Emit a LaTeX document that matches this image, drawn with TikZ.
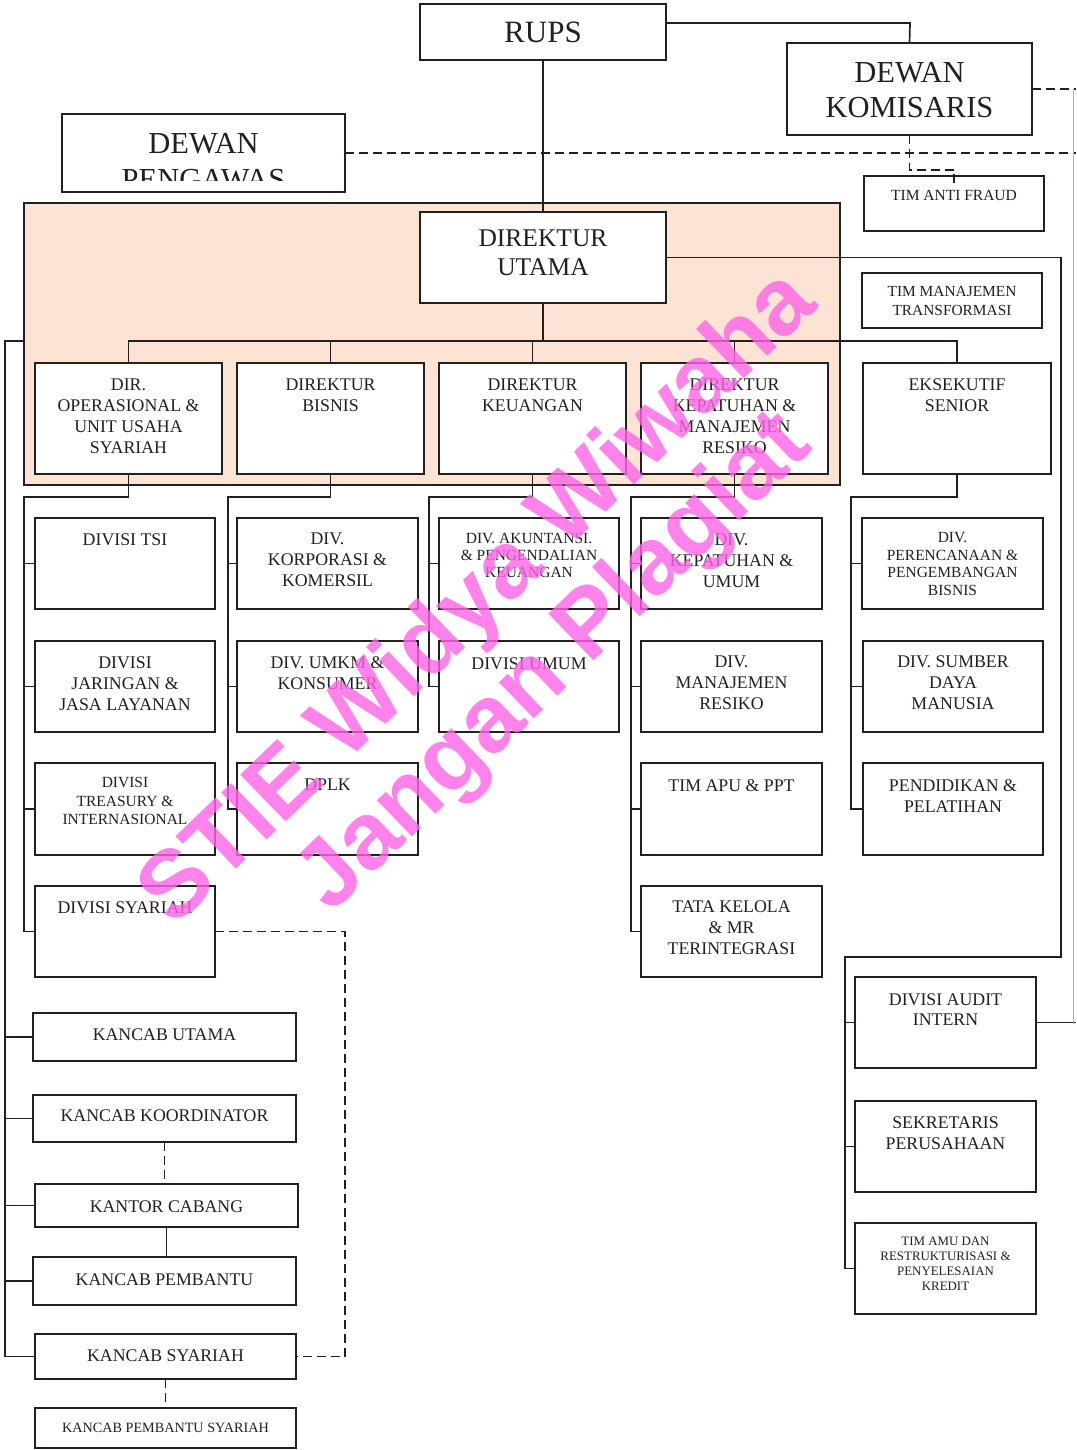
\documentclass[tikz,border=0pt]{standalone}
\usepackage{fontspec}
\setmainfont{Liberation Serif}
\newfontfamily\wmfont{Liberation Sans}
\usetikzlibrary{calc}
\definecolor{ink}{HTML}{231F20}
\definecolor{peach}{HTML}{FCE3D3}
\definecolor{wmpink}{RGB}{255,100,230}
\newcommand\fsz[2]{\fontsize{#1pt}{#2pt}\selectfont}
% box with its text: [text options]{name}{x1}{y1}{x2}{y2}{cap top of first line}{text}
\newcommand\orgbox[8][]{%
  \node[box, minimum width={#5-#3}, minimum height={#6-#4}] (#2) at ({(#3+#5)/2},{(#4+#6)/2}) {};
  \node[txt,#1] (#2-t) at ({(#3+#5)/2},#7) {#8};
}
\begin{document}
\begin{tikzpicture}[x=1pt,y=-1pt,
  box/.style={draw=ink, line width=2pt, fill=white, inner sep=0pt, outer sep=0pt},
  link/.style={draw=ink, line width=1.7pt},
  dlink/.style={link, dash pattern=on 9pt off 5pt},
  txt/.style={anchor=north, inner sep=0pt, align=center, text=ink, font=\fsz{17.8}{21}},
  small/.style={font=\fsz{15.5}{17.5}},
  wm/.style={rotate=44, inner sep=0pt, text=wmpink, text opacity=0.8,
    font=\wmfont\bfseries\fsz{95}{95}}]
\useasboundingbox (0,0) rectangle (1076,1450);

% board of directors area
\node[draw=ink, line width=2pt, fill=peach, inner sep=0pt, outer sep=0pt,
  minimum width=816, minimum height=282] (peach) at (432,344) {};

% top level
\orgbox[font=\fsz{31}{36}]{rups}{420}{4}{666}{60}{22}{RUPS}
\orgbox[font=\fsz{30.5}{35.6}]{dk}{787}{43}{1032}{135}{61.7}{DEWAN\\KOMISARIS}
\node[box, minimum width=283, minimum height=78] (dp) at (203.5,153) {};
\begin{scope}
  \clip (dp.north west) rectangle ([yshift=11pt]dp.south east);
  \node[txt, font=\fsz{30.5}{36}] (dp-t) at (203.5,132.7) {DEWAN\\PENGAWAS};
\end{scope}
\orgbox[font=\fsz{25.5}{29.3}]{du}{420}{212}{666}{303}{229.3}{DIREKTUR\\UTAMA}
\orgbox[small]{taf}{864}{176}{1044}{231}{190}{TIM ANTI FRAUD}
\orgbox[font=\fsz{15.4}{18.3}]{tmt}{862}{273}{1042}{328}{286.4}{TIM MANAJEMEN\\TRANSFORMASI}

% directors
\orgbox{dirop}{35}{363}{222}{474}{378.3}{DIR.\\OPERASIONAL \&\\UNIT USAHA\\SYARIAH}
\orgbox{dbis}{237}{363}{424}{474}{378.3}{DIREKTUR\\BISNIS}
\orgbox{dkeu}{439}{363}{626}{474}{378.3}{DIREKTUR\\KEUANGAN}
\orgbox{dkep}{641}{363}{828}{474}{378.3}{DIREKTUR\\KEPATUHAN \&\\MANAJEMEN\\RESIKO}
\orgbox{eks}{863}{363}{1051}{474}{378.3}{EKSEKUTIF\\SENIOR}

% divisions, first row
\orgbox{tsi}{35}{518}{215}{609}{534}{DIVISI TSI}
\orgbox{korp}{237}{518}{418}{609}{532.3}{DIV.\\KORPORASI \&\\KOMERSIL}
\orgbox[font=\fsz{15.5}{17.3}]{akun}{439}{518}{619}{609}{532.7}{DIV. AKUNTANSI.\\\& PENGENDALIAN\\KEUANGAN}
\orgbox{dkepu}{641}{518}{822}{609}{533.2}{DIV.\\KEPATUHAN \&\\UMUM}
\orgbox[small]{pren}{862}{518}{1043}{609}{532.4}{DIV.\\PERENCANAAN \&\\PENGEMBANGAN\\BISNIS}

% second row
\orgbox{jar}{35}{641}{215}{732}{656.3}{DIVISI\\JARINGAN \&\\JASA LAYANAN}
\orgbox{umkm}{237}{641}{418}{732}{656}{DIV. UMKM \&\\KONSUMER}
\orgbox{umum}{439}{641}{619}{732}{657.3}{DIVISI UMUM}
\orgbox{mr}{641}{641}{822}{732}{656}{DIV.\\MANAJEMEN\\RESIKO}
\orgbox{sdm}{863}{641}{1043}{732}{656}{DIV. SUMBER\\DAYA\\MANUSIA}

% third row
\orgbox[font=\fsz{15.5}{18.3}]{trs}{35}{763}{215}{855}{777.3}{DIVISI\\TREASURY \&\\INTERNASIONAL}
\orgbox{dplk}{237}{763}{418}{855}{779}{DPLK}
\orgbox{apu}{641}{763}{822}{855}{779}{TIM APU \& PPT}
\orgbox{pend}{863}{763}{1043}{855}{779}{PENDIDIKAN \&\\PELATIHAN}

% fourth row
\orgbox{syr}{35}{886}{215}{977}{901.7}{DIVISI SYARIAH}
\orgbox{tata}{641}{886}{822}{977}{901}{TATA KELOLA\\\& MR\\TERINTEGRASI}

% units under the president director
\orgbox[font=\fsz{17.8}{20}]{aud}{855}{977}{1036}{1068}{993.3}{DIVISI AUDIT\\INTERN}
\orgbox[font=\fsz{17.8}{20.6}]{sek}{855}{1101}{1036}{1192}{1116.7}{SEKRETARIS\\PERUSAHAAN}
\orgbox[font=\fsz{12.9}{15}]{amu}{855}{1223}{1036}{1314}{1236.4}{TIM AMU DAN\\RESTRUKTURISASI \&\\PENYELESAIAN\\KREDIT}

% branch offices
\orgbox{ku}{33}{1013}{296}{1061}{1028.3}{KANCAB UTAMA}
\orgbox{kk}{33}{1095}{296}{1142}{1110}{KANCAB KOORDINATOR}
\orgbox{kc}{35}{1184}{298}{1227}{1200}{KANTOR CABANG}
\orgbox{kp}{33}{1257}{296}{1305}{1273.3}{KANCAB PEMBANTU}
\orgbox{ks}{35}{1334}{296}{1379}{1349}{KANCAB SYARIAH}
\orgbox[font=\fsz{14.2}{16}]{kps}{35}{1408}{296}{1448}{1423.3}{KANCAB PEMBANTU SYARIAH}

% junction points
\coordinate (busy) at (543,341);
\coordinate (lrail) at (5,341);
\coordinate (rk) at (910,23);
\coordinate (c1) at (24,497);
\coordinate (c2) at (228,497);
\coordinate (c3) at (429,497);
\coordinate (c4) at (631,497);
\coordinate (c5) at (851,497);
\coordinate (c6) at (1061,957);
\coordinate (c7) at (845,957);
\coordinate (c8) at (954,170);
\coordinate (c9) at (345,933);
\coordinate (redge) at (1076,155);
\coordinate (gtop) at (1073,89);
\coordinate (gbot) at (1073,1024);

% solid reporting lines
\draw[link] (rups) -- (du);
\draw[link] (rups.east |- rk) -- (rk) -- (dk.north);
\draw[link] (du) -- (busy);
\draw[link] (dirop.north) |- (busy) -| (eks.north);
\foreach \n in {dbis,dkeu,dkep} \draw[link] (\n.north) -- (\n.north |- busy);

\draw[link] (dirop.south) |- (c1) |- (syr.west);
\foreach \n in {tsi,jar,trs} \draw[link] (\n.west) -- (\n.west -| c1);
\draw[link] (dbis.south) |- (c2) |- (dplk.west);
\foreach \n in {korp,umkm} \draw[link] (\n.west) -- (\n.west -| c2);
\draw[link] (dkeu.south) |- (c3) |- (umum.west);
\draw[link] (akun.west) -- (akun.west -| c3);
\draw[link] (dkep.south) |- (c4) |- (tata.west);
\foreach \n in {dkepu,mr,apu} \draw[link] (\n.west) -- (\n.west -| c4);
\draw[link] (eks.south) |- (c5) |- (pend.west);
\foreach \n in {pren,sdm} \draw[link] (\n.west) -- (\n.west -| c5);

\draw[link] (du.east) -| (c6) -- (c7) |- (amu.west);
\foreach \n in {aud,sek} \draw[link] (\n.west) -- (\n.west -| c7);
\draw[link] (aud.east) -- (aud.east -| redge);

\draw[link] (peach.west |- busy) -- (lrail) |- (ks.west);
\foreach \n in {ku,kk,kc,kp} \draw[link] (\n.west) -- (\n.west -| lrail);
\draw[link] (kc.south) -- (kc.south |- kp.north);

% dashed coordination lines
\draw[dlink] (dk.east) -- (dk.east -| redge);
\draw[dlink] (dp.east) -- (dp.east -| redge);
\draw[dlink] (dk.south) |- (c8) -- ([yshift=-12pt]taf.north);
\draw[draw=black!30, line width=0.8pt] (gtop) -- (gbot);
\draw[dlink] (syr.east) -- (syr.east -| c9) |- (ks.east);
\draw[dlink] (kk.south) -- (kk.south |- kc.north);
\draw[dlink] (ks.south) -- (ks.south |- kps.north);

% watermark
\node[wm] (wm1) at (480,600) {STIE Widya Wiwaha};
\node[wm] (wm2) at (556,664) {Jangan Plagiat};
\end{tikzpicture}
\end{document}
